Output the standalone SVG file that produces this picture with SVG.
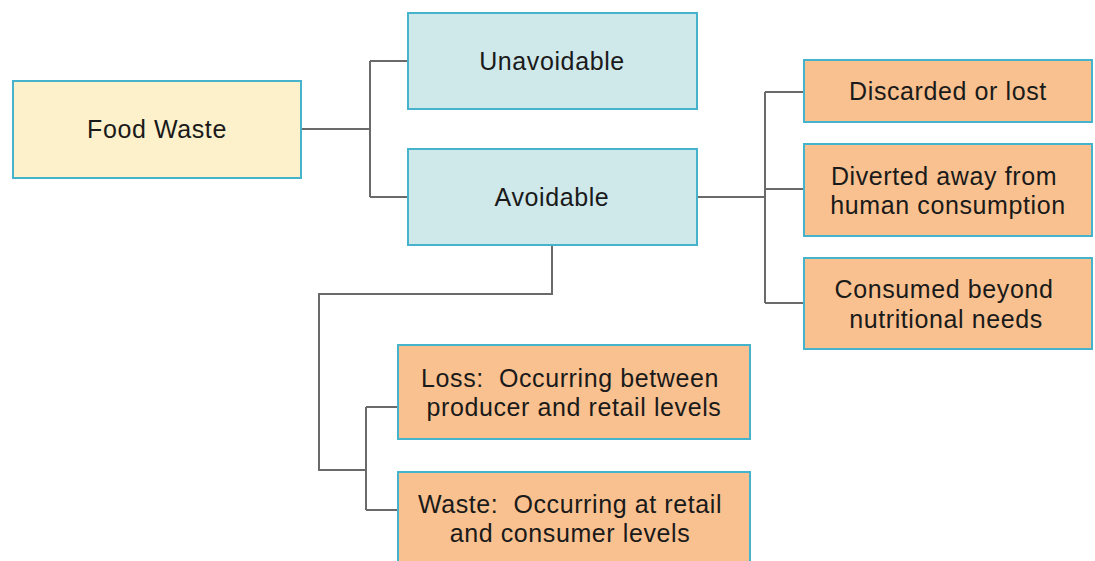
<svg xmlns="http://www.w3.org/2000/svg" width="1095" height="561" viewBox="0 0 1095 561">
<style>
.n{stroke:#45b3cb;stroke-width:2}
.y{fill:#fdf1cb}.b{fill:#cfe8ea}.o{fill:#f9c18f}
text{font-family:"Liberation Sans",Arial,sans-serif;font-size:25px;letter-spacing:0.6px;fill:#1a1a1a;text-anchor:middle;white-space:pre}
.c{fill:none;stroke:#6a6a6a;stroke-width:2}
</style>
<rect width="1095" height="561" fill="#ffffff"/>
<g id="connectors">
<path class="c" d="M301 129H370M370 61V197M370 61H408M370 197H408"/>
<path class="c" d="M697 197H765M765 92V303M765 92H804M765 189H804M765 303H804"/>
<path class="c" d="M552 245V294H319V470H366M366 407V510M366 407H398M366 510H398"/>
</g>
<g id="food-waste"><rect class="n y" x="13" y="81" width="288" height="97"/><text x="157" y="138">Food Waste</text></g>
<g id="unavoidable"><rect class="n b" x="408" y="13" width="289" height="96"/><text x="552" y="70">Unavoidable</text></g>
<g id="avoidable"><rect class="n b" x="408" y="149" width="289" height="96"/><text x="552" y="206">Avoidable</text></g>
<g id="discarded"><rect class="n o" x="804" y="60" width="288" height="62"/><text x="948" y="100">Discarded or lost</text></g>
<g id="diverted"><rect class="n o" x="804" y="144" width="288" height="92"/><text x="944" y="185">Diverted away from</text><text x="948" y="214">human consumption</text></g>
<g id="consumed"><rect class="n o" x="804" y="258" width="288" height="91"/><text x="944" y="298">Consumed beyond</text><text x="946" y="328">nutritional needs</text></g>
<g id="loss"><rect class="n o" x="398" y="345" width="352" height="94"/><text x="570" y="387" xml:space="preserve">Loss:  Occurring between</text><text x="574" y="416">producer and retail levels</text></g>
<g id="waste"><rect class="n o" x="398" y="472" width="352" height="96"/><text x="570" y="513" xml:space="preserve">Waste:  Occurring at retail</text><text x="570" y="542">and consumer levels</text></g>
</svg>
